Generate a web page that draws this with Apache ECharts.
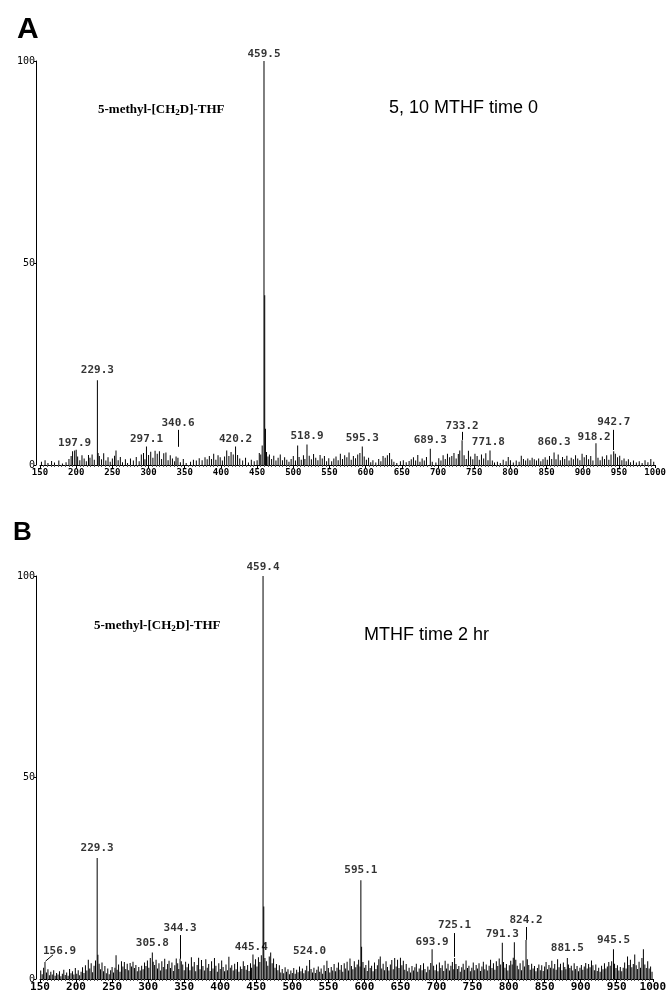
<!DOCTYPE html>
<html>
<head>
<meta charset="utf-8">
<script src="https://cdn.jsdelivr.net/npm/echarts@6/dist/echarts.min.js"></script>
<style>html,body{margin:0;padding:0;background:#fff}#c{width:669px;height:996px}</style>
</head>
<body>
<div id="c"></div>
<script>
// ---- Panel A: 5,10 MTHF time 0  (m/z, relative intensity %) ----
var peaksA = [[152,0.8],[157,1.2],[161,0.5],[166,1],[170,0.6],[176,1.1],[181,0.4],[186,0.7],[190,1.5],[193,2.2],[195,3.4],[197.9,3.6],[200,3.8],[202,2.1],[205,1.2],[208,2.4],[211,1.6],[214,0.9],[217,2.5],[219,1.8],[222,2.6],[225,1.3],
[229.3,21],[230.3,3],
[232,2.2],[235,1.4],[238,2.9],[241,1.1],[244,1.9],[247,0.8],[250,1.6],[253,2.3],[255,3.6],[258,1.2],[261,2],[264,0.7],[268,1.4],[271,0.5],[275,1.6],[279,1.1],[283,2],[287,0.9],[290,2.6],[293,3],[295,1.4],[297.1,4.6],[300,2.5],[303,3.3],[306,1.8],[309,3.5],[312,2.8],[315,3.4],[318,1.5],[321,2.9],[324,3.1],[327,1.2],[330,2.4],[333,1.6],[336,0.9],[338,2.1],[340.6,1.8],[344,0.7],[348,1.5],[352,0.5],
[358,0.8],[362,1.3],[366,1.1],[370,1.7],[374,1.2],[378,1.9],[381,1.4],[384,2.2],[387,1.5],[390,2.8],[393,1.3],[396,2.4],[399,1.9],[402,1.1],[405,2.1],[408,3.6],[411,2.2],[414,3.2],[417,2.6],[420.2,4.6],[423,2.5],[426,1.6],[430,1.1],[434,1.8],[438,0.6],[442,1.3],[446,0.9],[450,1.2],[453,3],[455,2.6],[457,4.8],
[459.5,100],[460.5,42],[461.5,9],
[463,3.2],[465,2.1],[467,2.6],[470,1.5],[473,2.3],[476,1.1],[479,1.8],[482,2.6],[485,1.2],[488,1.9],[491,1.3],[494,0.8],[497,1.5],[500,2.2],[503,1.1],[506,4.8],[508,2],[511,1.3],[514,2.4],[516,1.5],[518.9,5.1],[522,2.3],[525,1.4],[528,2.7],[531,1.8],[534,1.2],[537,2.5],[540,1.6],[543,2.2],[546,0.9],[549,1.7],
[553,0.9],[556,1.6],[559,2.1],[562,1.2],[565,2.8],[568,1.5],[571,2.4],[574,1.9],[577,3.1],[580,1.3],[583,2.2],[586,1.7],[589,2.6],[592,3],[595.3,4.6],[598,2.1],[601,1.3],[604,1.8],[607,0.7],[610,1.2],[614,0.6],[618,1.5],[621,0.9],[624,2.2],[627,1.8],[630,2.4],[633,3],[636,1.4],[639,0.8],
[643,0.5],[648,0.9],[652,1.2],[656,0.7],[660,1],[663,1.4],[666,1.9],[669,1.1],[672,2.5],[675,0.8],[678,1.6],[681,1.1],[684,2],[689.3,4],[692,0.8],[697,0.6],[701,1.7],[704,1.1],[707,2.4],[710,1.5],[713,2.8],[716,1.9],[719,2.2],[722,3],[725,1.6],[728,2.7],[730,3.6],[733.2,6.1],[736,2.4],[739,1.5],[742,3.5],[745,2.1],[748,1.4],[751,2.8],[754,2.2],[757,1.3],[760,2.6],[763,1.6],[766,2.9],[769,1.2],[771.8,3.6],[775,1.1],[778,0.6],[782,0.8],[786,0.5],[790,1.3],[794,0.9],[797,2],[800,1.2],
[804,0.6],[808,1.1],[812,0.8],[815,2.3],[818,1.5],[821,1.1],[824,1.6],[827,1.2],[830,1.8],[833,1.4],[836,1.1],[839,1.6],[842,0.9],[845,1.4],[848,1.9],[851,1.3],[854,2.2],[857,1.5],[860.3,3.1],[863,1.4],[866,2.6],[869,1.2],[872,2],[875,1.5],[878,2.3],[881,1.1],[884,1.8],[887,1.4],[890,2.4],[893,1.6],[896,1.2],[899,2.8],[902,1.9],[905,2.5],[908,1.4],[911,2.2],[914,1.1],[918.2,5.4],[921,1.8],[924,1.2],[927,2.1],[930,1.5],[933,2.4],[936,1.3],[939,2.6],[942.7,3.4],[945,2.8],[948,1.9],[951,2.3],[954,1.2],[957,1.6],[960,0.9],[963,1.4],[966,0.7],[970,1.1],[974,0.6],[978,0.9],[982,0.5],[986,1.2],[990,0.7],[994,1.5],[998,0.8]];

// peak labels: [m/z anchor, height %, text]
var labelsA = [[459.5,101.8,'459.5'],[229.3,23.5,'229.3'],[197.9,5.5,'197.9'],[297.1,6.5,'297.1'],[340.6,10.4,'340.6'],[420.2,6.4,'420.2'],[518.9,7.2,'518.9'],[595.3,6.7,'595.3'],[689.3,6.2,'689.3'],[733.2,9.7,'733.2'],[769.6,5.7,'771.8'],[860.3,5.7,'860.3'],[915.7,6.9,'918.2'],[942.7,10.6,'942.7']];
// leader lines: [x1, y1, x2, y2]
var leadersA = [[340.6,4.5,340.6,8.7],[733.2,6.2,733.2,8.2],[942.7,3.7,942.7,8.7]];

// ---- Panel B: MTHF time 2 hr ----
var peaksB = [[151,2.1],[153,1.2],[155,2.8],[156.9,4.2],[159,1.6],[161,2.4],[163,0.9],[165,1.8],[167,1.1],[169,2.2],[171,0.8],[173,1.5],[175,1.1],[177,1.9],[179,0.7],[181,1.3],[183,2.3],[185,1.0],[187,1.6],[189,0.8],[191,2.5],[193,1.4],[195,1.9],[197,1.1],[199,2.7],[201,1.3],[203,2.2],[205,0.9],[207,1.8],[209,2.9],[211,1.5],[213,3.4],[215,2.1],[217,4.8],[219,2.6],[221,3.9],[223,1.7],[225,3.3],[227,4.6],
[229.3,30],[230.3,6],
[232,3.8],[234,2.4],[236,4.1],[238,1.9],[240,3.2],[242,1.4],[244,2.6],[246,1.2],[248,2.2],[250,3],[252,1.6],[254,2.8],[255.5,5.9],[257,2.3],[259,3.6],[261,1.8],[263,4.4],[265,3.1],[267,4.2],[269,2.5],[271,3.8],[273,2.2],[275,4],[277,3.1],[279,4.3],[281,2.7],[283,3.5],[285,1.9],[287,3],[289,2.1],[291,3.3],[293,2.4],[295,4.1],[297,3.2],[299,4.6],[301,2.8],[303,5.2],[305.8,6.6],[307,4.3],[309,3.5],[311,4.8],[313,2.6],[315,3.9],[317,2.1],[319,4.4],[321,3],[323,5],[325,2.4],[327,3.7],[329,4.5],[331,2.7],[333,4.1],[335,2],[337,3.4],[339,5.1],[341,3.9],[342.5,2.5],[344.3,5],[346,4.4],[348,3.6],[350,2.2],
[352,4.3],[354,2.9],[356,3.8],[358,2.2],[360,5.4],[362,3.1],[364,4.2],[366,1.9],[368,3.5],[370,5.3],[372,2.4],[374,4.7],[376,3.2],[378,2.1],[380,4.9],[382,2.8],[384,3.7],[386,2],[388,4.4],[390,2.6],[392,5.2],[394,3.3],[396,1.8],[398,3.9],[400,2.5],[402,4.6],[404,3],[406,1.9],[408,3.6],[410,2.2],[412,5.5],[414,2.8],[416,3.4],[418,2.1],[420,3.8],[422,2.4],[424,4.2],[426,1.8],[428,3.1],[430,2.5],[432,4.4],[434,3.2],[436,2.3],[438,3.5],[440,2],[442,3.9],[443.5,2.8],[445.4,6.1],[447,3.6],[449,4.9],[451,3.1],[453,5.4],[455,4.2],[457,5.9],
[459.4,100],[460.4,18],
[462,5.2],[464,4.4],[466,3.3],[468,5.6],[470,6.6],[472,3.9],[474,5.1],[476,2.8],[478,3.7],[480,2.2],[482,3.4],[484,1.6],[486,2.5],[488,1.4],[490,2.9],[492,1.8],[494,2.4],[496,1.2],[498,2.1],[500,1.5],[502,2.7],[504,1.3],[506,2.3],[508,1.7],[510,3.1],[512,1.9],[514,2.6],[516,1.4],[518,2.2],[520,3.3],[522,1.9],[524,4.7],[526,2.5],[528,1.6],[530,2.8],[532,1.5],[534,2.3],[536,3.1],[538,1.8],[540,2.6],[542,1.3],[544,3.4],[546,2],[548,4.5],[550,2.7],[552,1.6],[554,3],[556,2.1],[558,3.7],[560,1.9],
[562,2.8],[564,4.1],[566,2.3],[568,3.5],[570,1.8],[572,3.9],[574,2.6],[576,4.3],[578,2.1],[580,5.1],[582,3.2],[584,2.4],[586,4.4],[588,2.9],[590,3.6],[592,4.8],[594,3.1],
[595.1,24.5],[596.1,8],
[598,4.2],[600,2.8],[602,3.5],[604,2],[606,4.6],[608,2.7],[610,3.3],[612,1.9],[614,4.1],[616,2.5],[618,3.4],[620,4.9],[622,5.6],[624,2.6],[626,3.8],[628,2.2],[630,4.4],[632,3],[634,2.1],[636,3.6],[638,4.7],[640,2.4],[642,5.2],[644,3.1],[646,4.8],[648,2.7],[650,5.3],[652,3.4],[654,4.5],[656,2.3],[658,3.7],[660,1.9],[662,2.8],[664,1.6],[666,3.2],[668,2.1],[670,2.9],[672,3.8],[674,1.8],[676,2.6],[678,3.5],[680,2.2],[682,3.9],[684,2.5],[686,1.7],[688,3.1],[690,2.3],[692,4],[693.9,7.4],[696,3.3],[698,2.2],
[700,3.6],[702,1.9],[704,4.1],[706,2.7],[708,3.4],[710,2],[712,4.5],[714,2.6],[716,3.8],[718,2.1],[720,3.3],[722,4.2],[724,2.4],[725.1,5.2],[727,3.7],[729,2.5],[731,3.2],[733,1.8],[735,2.9],[737,3.8],[739,2.3],[741,4.6],[743,2.7],[745,3.3],[747,1.9],[749,2.8],[751,4.1],[753,2.2],[755,3.5],[757,2.6],[759,3.9],[761,2],[763,3.1],[765,4.3],[767,2.4],[769,3.6],[771,2.1],[773,3.3],[775,4.8],[777,2.7],[779,3.9],[781,2.3],[783,4.4],[785,3.2],[787,5.1],[789,3.6],[791.3,9],[793,4.2],[795,2.8],[797,3.7],[799,2.1],
[801,3.4],[803,4.5],[805,3.6],[806.5,5.3],[808,9.1],[810,4.8],[812,3.3],[814,2.4],[816,3.9],[818,2.2],[820,4.6],[822,3.1],[824.2,9.7],[826,4.9],[828,3.5],[830,2.3],[832,3.8],[834,2.6],[836,3.2],[838,1.9],[840,2.7],[842,3.6],[844,2.2],[846,3.4],[848,2],[850,3.1],[852,4.2],[854,2.4],[856,3.5],[858,2.8],[860,4.5],[862,2.6],[864,3.7],[866,2.3],[868,4.9],[870,2.9],[872,3.8],[874,2.2],[876,4.1],[878,3],[879.5,2.4],[881.5,5.2],[883,3.6],[885,2.7],[887,3.3],[889,2.1],[891,3.9],[893,2.5],[895,3.2],[897,1.9],[899,2.8],
[901,3.5],[903,2.3],[905,3.1],[907,4],[909,2.6],[911,3.7],[913,2.9],[915,4.6],[917,3.4],[919,2.2],[921,3.6],[923,2],[925,2.8],[927,1.8],[929,3.3],[931,2.4],[933,3.9],[935,2.6],[937,3.1],[939,4.2],[941,3.3],[943,4.4],[945.5,7.4],[947,3.8],[949,2.7],[951,3.4],[953,2.1],[955,3],[957,1.9],[959,2.8],[961,4.1],[963,2.6],[965,5.6],[967,3.5],[969,4.8],[971,2.9],[973,3.7],[975,6.1],[977,3.4],[979,2.5],[981,4.3],[983,2.8],[985,5.2],[987,7.4],[989,3.6],[991,2.7],[993,4.4],[995,2.6],[997,3.1],[999,1.8]];

var labelsB = [[459.4,102.2,'459.4'],[229.3,32.5,'229.3'],[595.1,27,'595.1'],[177,6.9,'156.9'],[305.8,8.9,'305.8'],[344.3,12.7,'344.3'],[443,7.9,'445.4'],[524,6.9,'524.0'],[693.9,9.2,'693.9'],[725.1,13.4,'725.1'],[791.3,11.2,'791.3'],[824.2,14.6,'824.2'],[881.5,7.7,'881.5'],[945.5,9.7,'945.5']];
var leadersB = [[157.5,4.4,168,6],[344.3,5,344.3,10.9],[725.1,5.5,725.1,11.4],[824.2,9.7,824.2,12.9]];

var xTicks = {min:150, max:1000, interval:50};
var yTicks = {min:0, max:100, interval:50};

var MONO = 'DejaVu Sans Mono';

function xAxis(gi, fs) {
  return {
    gridIndex: gi, type: 'value', min: xTicks.min, max: xTicks.max, interval: xTicks.interval,
    axisLine: {lineStyle: {color: '#000', width: 1}},
    axisTick: {length: 3, lineStyle: {color: '#000'}},
    minorTick: {show: true, splitNumber: 10, length: 2, lineStyle: {color: '#555'}},
    splitLine: {show: false},
    axisLabel: {fontFamily: MONO, fontSize: fs, fontWeight: 'bold', color: '#000', margin: 3,
      formatter: function (v) { return String(v); }}
  };
}
function yAxis(gi) {
  return {
    gridIndex: gi, type: 'value', min: yTicks.min, max: yTicks.max, interval: yTicks.interval, offset: 4,
    axisLine: {show: true, lineStyle: {color: '#000', width: 1}},
    axisTick: {show: true, length: 2, lineStyle: {color: '#000'}},
    splitLine: {show: false},
    axisLabel: {fontFamily: MONO, fontSize: 10, color: '#000', margin: 1,
      formatter: function (v) { return String(v); }}
  };
}
function bars(i, data) {
  return {type: 'bar', xAxisIndex: i, yAxisIndex: i, data: data, barWidth: 1, barGap: '-100%',
    itemStyle: {color: '#000'}, silent: true, animation: false};
}
function labels(i, data, leaders) {
  return {
    type: 'scatter', xAxisIndex: i, yAxisIndex: i, clip: false, symbolSize: 0, silent: true, animation: false,
    data: data,
    label: {show: true, position: 'inside', formatter: function (p) { return p.data[2]; },
      fontFamily: MONO, fontSize: 11, fontWeight: 'bold', color: '#000'},
    markLine: {
      symbol: 'none', silent: true, animation: false,
      label: {show: false},
      lineStyle: {color: '#000', width: 1, type: 'solid'},
      data: leaders.map(function (l) { return [{coord: [l[0], l[1]]}, {coord: [l[2], l[3]]}]; })
    }
  };
}

var chart = echarts.init(document.getElementById('c'), null, {renderer: 'canvas'});
var compoundRich = {
  b: {fontFamily: 'Liberation Serif', fontWeight: 'bold', fontSize: 13, color: '#000'},
  s: {fontFamily: 'Liberation Serif', fontWeight: 'bold', fontSize: 9, color: '#000', verticalAlign: 'bottom', padding: [6, 0, 0, 0]}
};
chart.setOption({
  backgroundColor: '#fff',
  animation: false,
  grid: [
    {left: 40, right: 12, top: 61, bottom: 531},
    {left: 40, right: 12, top: 576, bottom: 17}
  ],
  xAxis: [xAxis(0, 9), xAxis(1, 11)],
  yAxis: [yAxis(0), yAxis(1)],
  series: [bars(0, peaksA), bars(1, peaksB), labels(0, labelsA, leadersA), labels(1, labelsB, leadersB)],
  title: [
    {text: 'A', left: 12, top: 10, textStyle: {fontFamily: 'Liberation Sans', fontWeight: 'bold', fontSize: 30, color: '#000'}},
    {text: 'B', left: 8, top: 515, textStyle: {fontFamily: 'Liberation Sans', fontWeight: 'bold', fontSize: 26, color: '#000'}},
    {text: '{b|5-methyl-[CH}{s|2}{b|D]-THF}', left: 93, top: 97, textStyle: {rich: compoundRich}},
    {text: '{b|5-methyl-[CH}{s|2}{b|D]-THF}', left: 89, top: 613, textStyle: {rich: compoundRich}},
    {text: '5, 10 MTHF time 0', left: 384, top: 94, textStyle: {fontFamily: 'Liberation Sans', fontWeight: 'normal', fontSize: 18, color: '#000'}},
    {text: 'MTHF time 2 hr', left: 359, top: 621, textStyle: {fontFamily: 'Liberation Sans', fontWeight: 'normal', fontSize: 18, color: '#000'}}
  ]
});
</script>
</body>
</html>
